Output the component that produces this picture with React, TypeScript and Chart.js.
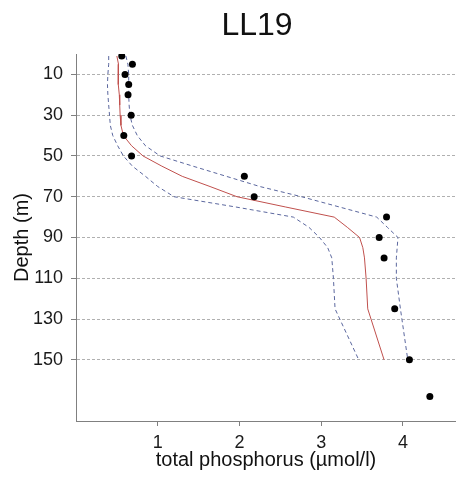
import React, { useEffect, useRef } from "react";
import { Chart, registerables } from "chart.js";

Chart.register(...registerables);

const TITLE = "LL19";
const X_TITLE = "total phosphorus (µmol/l)";
const Y_TITLE = "Depth (m)";

const X_TICKS = [1, 2, 3, 4];
const Y_TICKS = [10, 30, 50, 70, 90, 110, 130, 150];

// Observations (black dots)
const OBS_DEPTH = [1, 5, 10, 15, 20, 30, 40, 50, 60, 70, 80, 90, 100, 125, 150, 168];
const OBS_TP = [0.56, 0.69, 0.6, 0.645, 0.637, 0.675, 0.585, 0.68, 2.06, 2.18, 3.8, 3.71, 3.77, 3.9, 4.08, 4.33];

// Model profile depths
const MODEL_DEPTH = [1, 5, 10, 15, 20, 25, 30, 35, 40, 45, 50, 55, 60, 65, 70, 75, 80, 85, 90, 95, 100, 110, 125, 150];
// Model mean (red line)
const MODEL_MEAN = [0.5, 0.52, 0.52, 0.515, 0.53, 0.535, 0.54, 0.55, 0.58, 0.68, 0.82, 1.05, 1.3, 1.64, 1.97, 2.56, 3.16, 3.32, 3.47, 3.51, 3.53, 3.55, 3.57, 3.77];
// Lower bound (blue dashed, left)
const MODEL_LOW = [0.4, 0.4, 0.39, 0.385, 0.39, 0.4, 0.41, 0.42, 0.45, 0.51, 0.58, 0.69, 0.85, 1.0, 1.2, 1.95, 2.66, 2.85, 2.98, 3.08, 3.13, 3.15, 3.17, 3.46];
// Upper bound (blue dashed, right)
const MODEL_HIGH = [0.61, 0.635, 0.645, 0.645, 0.645, 0.65, 0.66, 0.69, 0.75, 0.85, 1.03, 1.43, 1.84, 2.25, 2.76, 3.22, 3.68, 3.81, 3.94, 3.93, 3.92, 3.92, 3.97, 4.06];

const FONT = "'Liberation Sans', Arial, sans-serif";

function pts(xs: number[], ys: number[]) {
  return xs.map((x, i) => ({ x, y: ys[i] }));
}

export default function App() {
  const ref = useRef<HTMLCanvasElement | null>(null);

  useEffect(() => {
    if (!ref.current) return;
    const titlePlugin = {
      id: "customTitle",
      afterDraw(chart: any) {
        const ctx = chart.ctx;
        ctx.save();
        ctx.font = `32px ${FONT}`;
        ctx.fillStyle = "#111111";
        ctx.textAlign = "center";
        ctx.textBaseline = "middle";
        ctx.fillText(TITLE, 257, 26);
        ctx.restore();
      },
    };
    const chart = new Chart(ref.current, {
      type: "scatter",
      data: {
        datasets: [
          {
            label: "observed",
            data: pts(OBS_TP, OBS_DEPTH),
            showLine: false,
            pointRadius: 3.5,
            pointBackgroundColor: "#000000",
            pointBorderColor: "#000000",
            pointBorderWidth: 0,
          },
          {
            label: "mean",
            data: pts(MODEL_MEAN, MODEL_DEPTH),
            showLine: true,
            pointRadius: 0,
            borderColor: "#c0504d",
            borderWidth: 1,
            tension: 0,
          },
          {
            label: "low",
            data: pts(MODEL_LOW, MODEL_DEPTH),
            showLine: true,
            pointRadius: 0,
            borderColor: "#5b679e",
            borderWidth: 1,
            borderDash: [4, 3],
            tension: 0,
          },
          {
            label: "high",
            data: pts(MODEL_HIGH, MODEL_DEPTH),
            showLine: true,
            pointRadius: 0,
            borderColor: "#5b679e",
            borderWidth: 1,
            borderDash: [4, 3],
            tension: 0,
          },
        ],
      },
      options: {
        responsive: false,
        animation: false,
        layout: { autoPadding: false, padding: { top: 54, left: 0, right: 0, bottom: 0 } },
        plugins: {
          legend: { display: false },
          tooltip: { enabled: false },
          title: { display: false },
        },
        scales: {
          x: {
            type: "linear",
            position: "bottom",
            min: 0,
            max: 4.65,
            afterBuildTicks: (s: any) => {
              s.ticks = X_TICKS.map((v) => ({ value: v }));
            },
            afterFit: (s: any) => {
              s.height = 57;
            },
            grid: {
              drawOnChartArea: false,
              drawTicks: true,
              tickLength: 5,
              tickColor: "#808080",
              tickBorderDash: [],
            },
            border: { display: true, color: "#808080", width: 1 },
            ticks: {
              color: "#1a1a1a",
              padding: 6,
              font: { family: FONT, size: 18 },
              callback: (v: any) => String(v),
            },
            title: {
              display: true,
              text: X_TITLE,
              color: "#111111",
              font: { family: FONT, size: 20 },
              padding: { top: 0, bottom: 6 },
            },
          },
          y: {
            type: "linear",
            reverse: true,
            min: 0,
            max: 180,
            afterBuildTicks: (s: any) => {
              s.ticks = Y_TICKS.map((v) => ({ value: v }));
            },
            afterFit: (s: any) => {
              s.width = 76;
            },
            grid: {
              drawOnChartArea: true,
              drawTicks: true,
              tickLength: 5,
              color: "#b0b0b0",
              lineWidth: 1,
              tickColor: "#808080",
              tickBorderDash: [],
            },
            border: { display: true, color: "#808080", width: 1, dash: [3, 2] },
            ticks: {
              color: "#1a1a1a",
              padding: 8,
              font: { family: FONT, size: 18 },
              callback: (v: any) => String(v),
            },
            title: {
              display: true,
              text: Y_TITLE,
              color: "#111111",
              font: { family: FONT, size: 20 },
              padding: { top: 10, bottom: 0 },
            },
          },
        },
      },
      plugins: [titlePlugin],
    } as any);
    return () => chart.destroy();
  }, []);

  return (
    <canvas
      ref={ref}
      width={456}
      height={478}
      style={{ position: "absolute", left: 0, top: 0, display: "block" }}
    />
  );
}
